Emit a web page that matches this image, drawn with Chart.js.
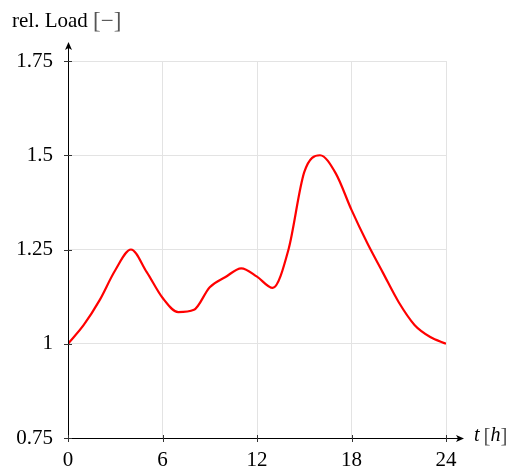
<!DOCTYPE html>
<html><head><meta charset="utf-8">
<script src="https://cdn.jsdelivr.net/npm/chart.js@4/dist/chart.umd.min.js"></script>
<style>html,body{margin:0;padding:0;background:#fff}#wrap{width:509px;height:470px}</style>
</head><body><div id="wrap"><canvas id="c" width="509" height="470"></canvas></div>
<script>
const hours = [0,1,2,3,4,5,6,7,8,9,10,11,12,13,14,15,16,17,18,19,20,21,22,23,24];
const relLoad = [1.0,1.05,1.115,1.195,1.25,1.19,1.122,1.084,1.09,1.15,1.177,1.2,1.178,1.148,1.25,1.455,1.5,1.452,1.355,1.267,1.188,1.11,1.05,1.018,1.0];
const xTicks = [0,6,12,18,24];
const yTicks = [0.75,1,1.25,1.5,1.75];
const yTickLabels = ['0.75','1','1.25','1.5','1.75'];
const yTitle = 'rel. Load';
const xTitle = 't';
const xUnit = 'h';

const FONT = '"Liberation Serif", "DejaVu Serif", serif';

const axisPlugin = {
  id: 'axisDecor',
  afterDraw(chart) {
    const ctx = chart.ctx, a = chart.chartArea;
    const xs = chart.scales.x, ys = chart.scales.y;
    ctx.save();
    ctx.strokeStyle = '#000'; ctx.fillStyle = '#000'; ctx.lineWidth = 1;
    // axes
    ctx.beginPath();
    ctx.moveTo(a.left + 0.5, a.bottom); ctx.lineTo(a.left + 0.5, a.top - 16);
    ctx.moveTo(a.left, a.bottom + 0.5); ctx.lineTo(a.right + 15, a.bottom + 0.5);
    ctx.stroke();
    // arrows
    ctx.beginPath();
    ctx.moveTo(a.left + 0.5, a.top - 19); ctx.lineTo(a.left - 3, a.top - 11); ctx.lineTo(a.left + 0.5, a.top - 13); ctx.lineTo(a.left + 4, a.top - 11); ctx.closePath(); ctx.fill();
    ctx.beginPath();
    const ax = a.right + 18;
    ctx.moveTo(ax, a.bottom + 0.5); ctx.lineTo(ax - 8, a.bottom - 3); ctx.lineTo(ax - 6, a.bottom + 0.5); ctx.lineTo(ax - 8, a.bottom + 4); ctx.closePath(); ctx.fill();
    // ticks
    ctx.strokeStyle = '#333';
    ctx.beginPath();
    yTicks.forEach(v => { const p = Math.round(ys.getPixelForValue(v)) + 0.5; ctx.moveTo(a.left - 4, p); ctx.lineTo(a.left + 4, p); });
    xTicks.forEach(v => { const p = Math.round(xs.getPixelForValue(v)) + 0.5; ctx.moveTo(p, a.bottom - 3); ctx.lineTo(p, a.bottom + 4); });
    ctx.stroke();
    // y title
    ctx.font = '21px ' + FONT;
    ctx.textBaseline = 'alphabetic'; ctx.textAlign = 'left';
    ctx.fillStyle = '#000';
    ctx.fillText(yTitle + ' ', 12, 27);
    let w = ctx.measureText(yTitle + ' ').width;
    ctx.fillStyle = '#555';
    ctx.font = '23px ' + FONT;
    ctx.fillText('[\u2212]', 12 + w, 28);
    // x title
    ctx.font = 'italic 20px ' + FONT;
    ctx.fillStyle = '#000';
    let tx = a.right + 28, ty = a.bottom + 3;
    ctx.fillText(xTitle, tx, ty);
    tx += ctx.measureText(xTitle).width + 4;
    ctx.font = '21px ' + FONT; ctx.fillStyle = '#555';
    ctx.fillText('[', tx, ty + 1); tx += ctx.measureText('[').width;
    ctx.font = 'italic 20px ' + FONT; ctx.fillStyle = '#000';
    ctx.fillText(xUnit, tx, ty); tx += ctx.measureText(xUnit).width;
    ctx.font = '21px ' + FONT; ctx.fillStyle = '#555';
    ctx.fillText(']', tx, ty + 1);
    ctx.restore();
  }
};

new Chart(document.getElementById('c'), {
  type: 'line',
  data: { datasets: [{
    data: hours.map((h, i) => ({ x: h, y: relLoad[i] })),
    borderColor: '#ff0000', borderWidth: 2.2, pointRadius: 0, fill: false,
    cubicInterpolationMode: 'monotone'
  }]},
  options: {
    responsive: false, animation: false,
    layout: { padding: { top: 61, right: 63, left: 0, bottom: 0 } },
    plugins: { legend: { display: false }, tooltip: { enabled: false } },
    scales: {
      x: {
        type: 'linear', min: 0, max: 24,
        afterBuildTicks: s => { s.ticks = xTicks.map(v => ({ value: v })); },
        afterFit: s => { s.height = 32; },
        grid: { color: '#e3e3e3', drawTicks: false, lineWidth: 1 },
        border: { display: false },
        ticks: { color: '#000', font: { family: FONT, size: 21 }, padding: 10, maxRotation: 0, callback: v => String(v) }
      },
      y: {
        min: 0.75, max: 1.75,
        afterBuildTicks: s => { s.ticks = yTicks.map(v => ({ value: v })); },
        afterFit: s => { s.width = 68; },
        grid: { color: '#e3e3e3', drawTicks: false, lineWidth: 1 },
        border: { display: false },
        ticks: { color: '#000', font: { family: FONT, size: 21 }, padding: 15,
          callback: v => { const i = yTicks.indexOf(v); return i >= 0 ? yTickLabels[i] : ''; } }
      }
    }
  },
  plugins: [axisPlugin]
});
</script></body></html>
